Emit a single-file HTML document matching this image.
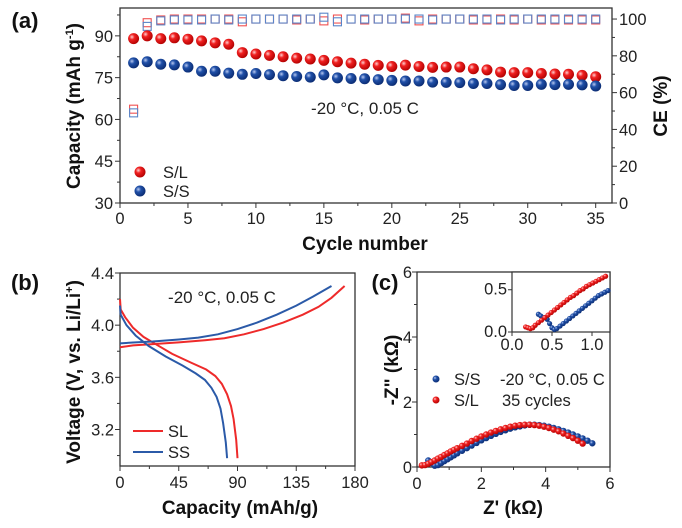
<!DOCTYPE html>
<html><head><meta charset="utf-8"><style>
body{margin:0;background:#fff;}
svg{display:block;font-family:"Liberation Sans",Arial,sans-serif;}
.t{font-size:16.5px;fill:#222;}
.b{font-size:19px;font-weight:bold;fill:#111;}
</style></head><body>
<svg id="s" width="682" height="528" viewBox="0 0 682 528">
<defs>
<radialGradient id="gr" cx="0.35" cy="0.35" r="0.7"><stop offset="0" stop-color="#ffd0d0"/><stop offset="0.35" stop-color="#f02020"/><stop offset="1" stop-color="#b00000"/></radialGradient>
<radialGradient id="gb" cx="0.35" cy="0.35" r="0.7"><stop offset="0" stop-color="#b8c8f0"/><stop offset="0.35" stop-color="#2050a8"/><stop offset="1" stop-color="#0a2a70"/></radialGradient>
</defs>
</svg>
<script>
// Panel (a) data
const cycles=[1,2,3,4,5,6,7,8,9,10,11,12,13,14,15,16,17,18,19,20,21,22,23,24,25,26,27,28,29,30,31,32,33,34,35];
const capSL=[89,90,89,89.3,88.8,88.2,87.5,87,84,83.5,83,82.5,82,81.7,81.2,80.7,80.2,79.8,79.4,79,79.5,79,78.7,78.8,78.8,78.2,77.8,77,76.8,76.8,76.5,76.3,76.2,75.8,75.3];
const capSS=[80.3,80.7,79.8,79.6,78.8,77.3,77.3,76.6,76.2,76.5,76.1,75.7,75.4,75.2,76,74.9,74.7,74.6,74.3,74,73.8,73.8,73.4,73.3,73.2,72.9,72.9,72.5,72.2,72.2,72.6,72.5,72.6,72.4,72];
const ceSL=[51,98,99.5,100,100,100,100,100,98.5,100,100,100,99.5,100,99,100,100,99.5,100,100,100.5,99,100,100,100,99.5,99.5,100,99.5,100,99.5,99.5,99.5,99.5,99.5];
const ceSS=[49,96,99,99.5,99.5,99.5,100,99.5,100,100,100,100,100,100,101,98.5,100,100,100,100,100,100,99.5,100,100,100,100,99.5,100,100,100,100,100,100,100];
const aXTicks=[0,5,10,15,20,25,30,35];
const aYTicks=[30,45,60,75,90];
const aRTicks=[0,20,40,60,80,100];
// Panel (b) data: [capacity, voltage]
const chSL=[[0,3.83],[10,3.845],[25,3.855],[45,3.868],[65,3.885],[80,3.9],[95,3.93],[110,3.97],[125,4.02],[140,4.08],[152,4.14],[162,4.21],[172,4.3]];
const chSS=[[0,3.86],[10,3.867],[25,3.875],[45,3.89],[60,3.905],[75,3.93],[90,3.97],[105,4.02],[120,4.08],[135,4.15],[148,4.22],[162,4.3]];
const dcSL=[[0,4.2],[0.5,4.12],[4,4.06],[10,3.98],[18,3.91],[28,3.85],[40,3.78],[55,3.71],[66,3.66],[73,3.61],[78,3.55],[82,3.47],[85,3.38],[87,3.28],[89,3.12],[90,2.98]];
const dcSS=[[0,4.15],[0.5,4.08],[5,4.0],[12,3.92],[22,3.84],[35,3.76],[48,3.69],[58,3.63],[65,3.58],[70,3.52],[74,3.45],[77,3.36],[79,3.25],[81,3.1],[82,2.98]];
const bXTicks=[0,45,90,135,180];
const bYTicks=[3.2,3.6,4.0,4.4];
// Panel (c) data: [Z', -Z'']
const nySL=[[0.15,0.05],[0.25,0.06],[0.35,0.1],[0.45,0.15],[0.55,0.2],[0.65,0.26],[0.75,0.31],[0.85,0.37],[0.95,0.42],[1.05,0.48],[1.15,0.53],[1.25,0.58],[1.4,0.65],[1.55,0.72],[1.7,0.8],[1.85,0.87],[2.0,0.94],[2.15,1.0],[2.3,1.06],[2.45,1.11],[2.6,1.16],[2.75,1.2],[2.9,1.24],[3.05,1.27],[3.2,1.29],[3.35,1.3],[3.5,1.3],[3.65,1.29],[3.8,1.27],[3.95,1.24],[4.1,1.2],[4.25,1.15],[4.4,1.1],[4.55,1.03],[4.7,0.96],[4.85,0.89],[5.0,0.81],[5.15,0.72]];
const nySS=[[0.35,0.2],[0.45,0.12],[0.55,0.04],[0.65,0.06],[0.75,0.12],[0.85,0.18],[0.95,0.24],[1.05,0.3],[1.15,0.36],[1.25,0.42],[1.4,0.5],[1.55,0.58],[1.7,0.66],[1.85,0.74],[2.0,0.82],[2.15,0.89],[2.3,0.96],[2.45,1.02],[2.6,1.08],[2.75,1.13],[2.9,1.18],[3.05,1.22],[3.2,1.25],[3.35,1.28],[3.5,1.3],[3.65,1.3],[3.8,1.29],[3.95,1.27],[4.1,1.24],[4.25,1.2],[4.4,1.16],[4.55,1.11],[4.7,1.06],[4.85,1.0],[5.0,0.94],[5.15,0.88],[5.3,0.81],[5.45,0.73]];
const inSL=[[0.17,0.06],[0.2,0.05],[0.23,0.04],[0.26,0.05],[0.29,0.08],[0.33,0.11],[0.37,0.14],[0.41,0.17],[0.45,0.2],[0.49,0.23],[0.53,0.26],[0.57,0.29],[0.61,0.32],[0.65,0.35],[0.69,0.38],[0.73,0.41],[0.77,0.43],[0.81,0.46],[0.85,0.49],[0.89,0.51],[0.93,0.54],[0.97,0.56],[1.01,0.58],[1.05,0.6],[1.09,0.62],[1.13,0.64],[1.17,0.66]];
const inSS=[[0.33,0.21],[0.36,0.19],[0.4,0.17],[0.44,0.15],[0.47,0.1],[0.5,0.05],[0.53,0.03],[0.56,0.04],[0.6,0.07],[0.64,0.1],[0.68,0.13],[0.72,0.16],[0.76,0.19],[0.8,0.22],[0.84,0.25],[0.88,0.28],[0.92,0.31],[0.96,0.34],[1.0,0.37],[1.04,0.4],[1.08,0.43],[1.12,0.45],[1.16,0.47],[1.2,0.49]];
const cTicks=[0,2,4,6];
const iXTicks=[0.0,0.5,1.0];
const iYTicks=[0.0,0.5];

const S=document.getElementById('s');
const NS='http://www.w3.org/2000/svg';
function mk(tag,at,parent){const e=document.createElementNS(NS,tag);for(const k in at)e.setAttribute(k,at[k]);(parent||S).appendChild(e);return e;}
function txt(x,y,s,cls,anchor,extra){const e=mk('text',Object.assign({x:x,y:y,class:cls,'text-anchor':anchor||'middle'},extra||{}));e.textContent=s;return e;}
function lin(d0,d1,r0,r1){return v=>r0+(v-d0)/(d1-d0)*(r1-r0);}

// ---------- Panel A ----------
const aL=120,aR=612,aT=8,aB=203;
const ax=lin(0,36.2,aL,aR), ay=lin(30,100,aB,aT), ar=lin(0,106,aB,aT);
let g=mk('g',{});


let fr=mk('rect',{x:aL,y:aT,width:aR-aL,height:aB-aT,fill:'none',stroke:'#333','stroke-width':1.3},g);

aXTicks.forEach(v=>{mk('line',{x1:ax(v),x2:ax(v),y1:aB,y2:aB+5,stroke:'#333'},g);let t=txt(ax(v),aB+21,v,'t');
 if(v+2.5<36.2)mk('line',{x1:ax(v+2.5),x2:ax(v+2.5),y1:aB,y2:aB+3,stroke:'#333'},g);});
aYTicks.forEach(v=>{mk('line',{x1:aL,x2:aL-5,y1:ay(v),y2:ay(v),stroke:'#333'},g);let t=txt(aL-7,ay(v)+6,v,'t','end');mk('line',{x1:aL,x2:aL-3,y1:ay(v+7.5),y2:ay(v+7.5),stroke:'#333'},g);});
aRTicks.forEach(v=>{mk('line',{x1:aR,x2:aR+5,y1:ar(v),y2:ar(v),stroke:'#333'},g);let t=txt(aR+7,ar(v)+6,v,'t','start');if(v<100)mk('line',{x1:aR,x2:aR+3,y1:ar(v+10),y2:ar(v+10),stroke:'#333'},g);});
cycles.forEach((c,i)=>{
 let q=mk('rect',{x:ax(c)-4,y:ar(ceSL[i])-4,width:8,height:8,fill:'none',stroke:'#f05050','stroke-width':1.1});
 
 let p=mk('rect',{x:ax(c)-4,y:ar(ceSS[i])-4,width:8,height:8,fill:'none',stroke:'#5a85c8','stroke-width':1.1});
 
});
cycles.forEach((c,i)=>{
 let a=mk('circle',{cx:ax(c),cy:ay(capSL[i]),r:5.5,fill:'url(#gr)'});
 
 let b=mk('circle',{cx:ax(c),cy:ay(capSS[i]),r:5.5,fill:'url(#gb)'});
 
});
let e;
e=txt(25,28,'(a)','b','middle',{style:'font-size:22px'});
e=txt(365,250,'Cycle number','b');
e=txt(0,0,'','b','middle',{transform:'translate(80,106) rotate(-90)'});e.innerHTML='Capacity (mAh g<tspan dy="-7" font-size="11">-1</tspan><tspan dy="7">)</tspan>';
e=txt(0,0,'CE (%)','b','middle',{transform:'translate(667,106) rotate(-90)'});
e=txt(365,114,'-20 °C, 0.05 C','t','middle',{style:'font-size:17px'});
e=mk('circle',{cx:140,cy:172,r:5.5,fill:'url(#gr)'});
e=txt(163,178,'S/L','t','start');
e=mk('circle',{cx:140,cy:191,r:5.5,fill:'url(#gb)'});
e=txt(163,197,'S/S','t','start');

// ---------- Panel B ----------
const bL=120,bR=355,bT=273,bB=466;
const bx=lin(0,180,bL,bR), by=lin(2.92,4.4,bB,bT);
e=mk('rect',{x:bL,y:bT,width:bR-bL,height:bB-bT,fill:'none',stroke:'#333','stroke-width':1.3});
bXTicks.forEach(v=>{mk('line',{x1:bx(v),x2:bx(v),y1:bB,y2:bB+5,stroke:'#333'});e=txt(bx(v),bB+22,v,'t');if(v<180)mk('line',{x1:bx(v+22.5),x2:bx(v+22.5),y1:bB,y2:bB+3,stroke:'#333'});});
bYTicks.forEach(v=>{mk('line',{x1:bL,x2:bL-5,y1:by(v),y2:by(v),stroke:'#333'});e=txt(bL-6,by(v)+6,v.toFixed(1),'t','end');mk('line',{x1:bL,x2:bL-3,y1:by(v-0.2),y2:by(v-0.2),stroke:'#333'});});
function path(arr,fx,fy){return arr.map((p,i)=>(i?'L':'M')+fx(p[0]).toFixed(1)+','+fy(p[1]).toFixed(1)).join('');}
[[chSL,'#ee2a2a','charge-sl-curve'],[dcSL,'#ee2a2a','discharge-sl-curve'],[chSS,'#2b5aa8','charge-ss-curve'],[dcSS,'#2b5aa8','discharge-ss-curve']].forEach(a=>{
 e=mk('path',{d:path(a[0],bx,by),fill:'none',stroke:a[1],'stroke-width':2});
});
e=txt(25,290,'(b)','b','middle',{style:'font-size:22px'});
e=txt(240,514,'Capacity (mAh/g)','b');
e=txt(0,0,'','b','middle',{transform:'translate(80,372) rotate(-90)'});e.innerHTML='Voltage (V, vs. Li/Li<tspan dy="-7" font-size="11">+</tspan><tspan dy="7">)</tspan>';
e=txt(222,303,'-20 °C, 0.05 C','t','middle',{style:'font-size:17px'});
e=mk('line',{x1:133,x2:163,y1:431,y2:431,stroke:'#ee2a2a','stroke-width':2});
e=txt(168,437,'SL','t','start');
e=mk('line',{x1:133,x2:163,y1:452,y2:452,stroke:'#2b5aa8','stroke-width':2});
e=txt(168,458,'SS','t','start');

// ---------- Panel C ----------
const cL=417,cR=610,cT=272,cB=467;
const cx=lin(0,6,cL,cR), cy=lin(0,6,cB,cT);
e=mk('rect',{x:cL,y:cT,width:cR-cL,height:cB-cT,fill:'none',stroke:'#333','stroke-width':1.3});
cTicks.forEach(v=>{mk('line',{x1:cx(v),x2:cx(v),y1:cB,y2:cB+5,stroke:'#333'});e=txt(cx(v),cB+22,v,'t');
 mk('line',{x1:cL,x2:cL-5,y1:cy(v),y2:cy(v),stroke:'#333'});e=txt(cL-5,cy(v)+6,v,'t','end');
 if(v<6){mk('line',{x1:cx(v+1),x2:cx(v+1),y1:cB,y2:cB+3,stroke:'#333'});mk('line',{x1:cL,x2:cL-3,y1:cy(v+1),y2:cy(v+1),stroke:'#333'});}});
nySS.forEach(p=>{e=mk('circle',{cx:cx(p[0]),cy:cy(p[1]),r:3.2,fill:'url(#gb)'});});
nySL.forEach(p=>{e=mk('circle',{cx:cx(p[0]),cy:cy(p[1]),r:3.2,fill:'url(#gr)'});});
// inset
const iL=512,iR=610,iT=272,iB=332;
const ix=lin(0,1.225,iL,iR), iy=lin(0,0.71,iB,iT);
e=mk('rect',{x:iL,y:iT,width:iR-iL,height:iB-iT,fill:'#fff',stroke:'#333','stroke-width':1.2});
iXTicks.forEach(v=>{mk('line',{x1:ix(v),x2:ix(v),y1:iB,y2:iB+4,stroke:'#333'});e=txt(ix(v),iB+18,v.toFixed(1),'t');});
iYTicks.forEach(v=>{mk('line',{x1:iL,x2:iL-4,y1:iy(v),y2:iy(v),stroke:'#333'});e=txt(iL-5,iy(v)+5,v.toFixed(1),'t','end');});
inSS.forEach(p=>{e=mk('circle',{cx:ix(p[0]),cy:iy(p[1]),r:2.6,fill:'url(#gb)'});});
inSL.forEach(p=>{e=mk('circle',{cx:ix(p[0]),cy:iy(p[1]),r:2.6,fill:'url(#gr)'});});
e=txt(385,290,'(c)','b','middle',{style:'font-size:22px'});
e=txt(513,514,"Z' (kΩ)",'b');
e=txt(0,0,'-Z" (kΩ)','b','middle',{transform:'translate(398,370) rotate(-90)'});
e=mk('circle',{cx:436,cy:379,r:3.5,fill:'url(#gb)'});
e=txt(454,385,'S/S','t','start');
e=mk('circle',{cx:436,cy:400,r:3.5,fill:'url(#gr)'});
e=txt(454,406,'S/L','t','start');
e=txt(500,385,'-20 °C, 0.05 C','t','start');
e=txt(502,406,'35 cycles','t','start');
</script>
</body></html>
